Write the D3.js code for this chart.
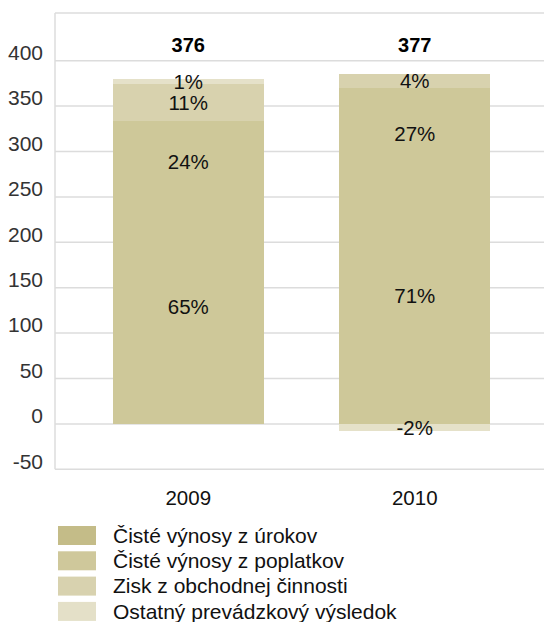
<!DOCTYPE html>
<html><head><meta charset="utf-8">
<script src="https://cdn.jsdelivr.net/npm/d3@7"></script>
<style>body{margin:0;background:#fff}svg{display:block;font-family:"Liberation Sans",Arial,sans-serif}</style>
</head><body><svg id="c" width="544" height="622"></svg>
<script>
const categories = ["2009", "2010"];
const seriesNames = ["Čisté výnosy z úrokov", "Čisté výnosy z poplatkov", "Zisk z obchodnej činnosti", "Ostatný prevádzkový výsledok"];
const interest = [244, 268];
const fees = [90, 102];
const trading = [40, 15];
const other = [6, -8];
const pctInterest = ["65%", "71%"];
const pctFees = ["24%", "27%"];
const pctTrading = ["11%", "4%"];
const pctOther = ["1%", "-2%"];
const totals = [376, 377];
const yTicks = [-50, 0, 50, 100, 150, 200, 250, 300, 350, 400];

const legendColors = ["#c4bc88", "#cfc89b", "#d8d2af", "#e4e0c8"];
const barColors = ["#cec899", "#cec899", "#d8d2ae", "#e5e1c9"];

const svg = d3.select("#c");
const y = d3.scaleLinear().domain([-50, 400]).range([469.3, 60.7]);
const x = d3.scaleBand().domain(categories).range([75, 528]).paddingInner(1/3).paddingOuter(1/6);
const FS = 20.5;

// frame + grid
const plotLeft = 55, plotTop = 13, plotRight = 544;
svg.append("line").attr("x1", plotLeft).attr("x2", plotRight).attr("y1", plotTop).attr("y2", plotTop)
  .attr("stroke", "#dcdcdc").attr("stroke-width", 1.5);
svg.append("line").attr("x1", plotLeft).attr("x2", plotLeft).attr("y1", plotTop).attr("y2", y(-50))
  .attr("stroke", "#dcdcdc").attr("stroke-width", 1.5);
svg.append("g").selectAll("line").data(yTicks).join("line")
  .attr("x1", plotLeft).attr("x2", plotRight)
  .attr("y1", d => y(d)).attr("y2", d => y(d))
  .attr("stroke", "#dcdcdc").attr("stroke-width", 1.5);

// y labels
svg.append("g").selectAll("text").data(yTicks).join("text")
  .attr("x", 43).attr("y", d => y(d) - 8).attr("dy", "0.35em")
  .attr("text-anchor", "end").attr("font-size", 21).attr("fill", "#333")
  .text(d => d);

// stacked data
const seriesVals = [interest, fees, trading, other];
const pcts = [pctInterest, pctFees, pctTrading, pctOther];
const segs = [];
categories.forEach((c, i) => {
  let pos = 0, neg = 0;
  seriesVals.forEach((arr, s) => {
    const v = arr[i];
    let y0, y1;
    if (v >= 0) { y0 = pos; y1 = pos + v; pos = y1; }
    else { y0 = neg + v; y1 = neg; neg = y0; }
    segs.push({c, s, y0, y1, label: pcts[s][i]});
  });
});

svg.append("g").attr("shape-rendering", "crispEdges").selectAll("rect").data(segs).join("rect")
  .attr("x", d => x(d.c)).attr("width", x.bandwidth())
  .attr("y", d => Math.round(y(d.y1))).attr("height", d => Math.round(y(d.y0)) - Math.round(y(d.y1)))
  .attr("fill", d => barColors[d.s]);

svg.append("g").selectAll("text").data(segs).join("text")
  .attr("x", d => x(d.c) + x.bandwidth() / 2)
  .attr("y", d => (y(d.y0) + y(d.y1)) / 2 + (d.s === 0 ? -6 : 0))
  .attr("dy", "0.35em").attr("text-anchor", "middle")
  .attr("font-size", FS).attr("fill", "#111")
  .text(d => d.label);

// totals
svg.append("g").selectAll("text").data(categories).join("text")
  .attr("x", d => x(d) + x.bandwidth() / 2).attr("y", 45).attr("dy", "0.35em")
  .attr("text-anchor", "middle").attr("font-size", 20).attr("font-weight", "bold").attr("fill", "#000")
  .text((d, i) => totals[i]);

// x labels
svg.append("g").selectAll("text").data(categories).join("text")
  .attr("x", d => x(d) + x.bandwidth() / 2).attr("y", 498).attr("dy", "0.35em")
  .attr("text-anchor", "middle").attr("font-size", FS).attr("fill", "#111")
  .text(d => d);

// legend
const lg = svg.append("g").selectAll("g").data(seriesNames).join("g")
  .attr("transform", (d, i) => `translate(58,${526 + i * 25.3})`);
lg.append("rect").attr("width", 38).attr("height", 19).attr("fill", (d, i) => legendColors[i]);
lg.append("text").attr("x", 55).attr("y", 9.5).attr("dy", "0.35em")
  .attr("font-size", 21).attr("fill", "#111").text(d => d);
</script></body></html>
